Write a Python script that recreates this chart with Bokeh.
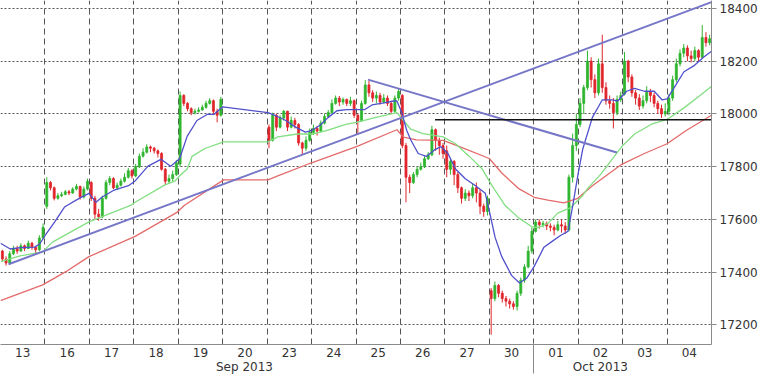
from bokeh.plotting import figure
from bokeh.models import FixedTicker, LinearAxis, Range1d
from bokeh.embed import file_html
from bokeh.resources import INLINE

# ---------------- data ----------------
days = ["13", "16", "17", "18", "19", "20", "23", "24", "25", "26", "27", "30", "01", "02", "03", "04"]
y_ticks = [17200, 17400, 17600, 17800, 18000, 18200, 18400]
month_pos = [5.49, 13.5]
month_labels = ["Sep 2013", "Oct 2013"]
month_break = [12.0]

# candles (2-hour bars): first open, closes, highs, lows per trading day
o13 = 17480
c13 = [17450, 17435, 17470, 17490, 17480, 17500, 17490, 17510, 17495, 17485, 17530, 17570]
h13 = [17485, 17460, 17480, 17500, 17500, 17510, 17505, 17520, 17515, 17500, 17540, 17585]
l13 = [17440, 17425, 17430, 17465, 17470, 17478, 17480, 17488, 17485, 17470, 17480, 17525]

o16 = 17650
c16 = [17740, 17720, 17680, 17690, 17695, 17705, 17700, 17715, 17725, 17685, 17715, 17745]
h16 = [17760, 17745, 17725, 17700, 17705, 17712, 17712, 17722, 17735, 17728, 17725, 17755]
l16 = [17640, 17710, 17672, 17675, 17685, 17692, 17692, 17698, 17710, 17675, 17680, 17710]

o17 = 17740
c17 = [17680, 17620, 17610, 17680, 17740, 17755, 17720, 17730, 17745, 17760, 17785, 17765]
h17 = [17745, 17690, 17640, 17690, 17750, 17765, 17760, 17740, 17755, 17775, 17795, 17790]
l17 = [17670, 17600, 17595, 17605, 17675, 17730, 17715, 17712, 17725, 17740, 17755, 17755]

o18 = 17765
c18 = [17800, 17840, 17855, 17875, 17870, 17860, 17850, 17790, 17745, 17755, 17770, 17815]
h18 = [17810, 17850, 17870, 17885, 17880, 17875, 17865, 17855, 17795, 17770, 17785, 17825]
l18 = [17760, 17795, 17835, 17850, 17855, 17850, 17835, 17785, 17730, 17738, 17745, 17765]

o19 = 17810
c19 = [18070, 18040, 18020, 18005, 18010, 18015, 18025, 18040, 18050, 18010, 17995, 18055]
h19 = [18085, 18075, 18045, 18025, 18020, 18025, 18035, 18050, 18060, 18055, 18020, 18065]
l19 = [17800, 18030, 18010, 17995, 17998, 18005, 18012, 18020, 18035, 18000, 17968, 17990]

o23 = 17950
c23 = [17900, 17995, 17950, 17985, 18010, 17950, 17975, 17960, 17890, 17870, 17900, 17930]
h23 = [17960, 18005, 18000, 17995, 18015, 18012, 17990, 17985, 17965, 17895, 17915, 17945]
l23 = [17870, 17895, 17935, 17945, 17975, 17935, 17945, 17945, 17880, 17846, 17860, 17895]

o24 = 17930
c24 = [17945, 17935, 17965, 17990, 18005, 18040, 18060, 18045, 18055, 18040, 18050, 17995]
h24 = [17960, 17955, 17975, 18000, 18015, 18055, 18070, 18068, 18062, 18058, 18065, 18055]
l24 = [17920, 17918, 17930, 17960, 17985, 18000, 18035, 18030, 18035, 18030, 18030, 17985]

o25 = 17995
c25 = [17975, 18040, 18110, 18080, 18060, 18070, 18045, 18060, 18040, 18010, 18060, 18085]
h25 = [18000, 18050, 18128, 18125, 18090, 18085, 18080, 18075, 18070, 18050, 18070, 18095]
l25 = [17925, 17970, 18035, 18065, 18045, 18040, 18035, 18040, 18030, 18000, 18005, 18050]

o26 = 18070
c26 = [17880, 17760, 17740, 17770, 17790, 17800, 17830, 17845, 17940, 17900, 17880, 17850]
h26 = [18075, 17890, 17770, 17780, 17800, 17815, 17840, 17855, 17955, 17945, 17910, 17890]
l26 = [17870, 17665, 17700, 17735, 17760, 17785, 17795, 17825, 17840, 17860, 17845, 17830]

o27 = 17860
c27 = [17790, 17820, 17770, 17720, 17680, 17700, 17690, 17720, 17700, 17650, 17630, 17680]
h27 = [17880, 17830, 17825, 17780, 17725, 17715, 17710, 17735, 17740, 17715, 17660, 17690]
l27 = [17760, 17770, 17730, 17700, 17660, 17670, 17670, 17680, 17665, 17620, 17610, 17615]

o30 = 17330
c30 = [17300, 17350, 17320, 17300, 17290, 17280, 17270, 17320, 17370, 17420, 17480, 17555]
h30 = [17340, 17365, 17355, 17330, 17310, 17300, 17290, 17330, 17380, 17430, 17500, 17570]
l30 = [17163, 17290, 17305, 17285, 17270, 17262, 17258, 17255, 17310, 17360, 17415, 17470]

o01 = 17555
c01 = [17590, 17580, 17585, 17575, 17570, 17560, 17580, 17575, 17560, 17760, 17880, 17960]
h01 = [17600, 17600, 17595, 17592, 17585, 17580, 17595, 17600, 17590, 17770, 17925, 18000]
l01 = [17550, 17565, 17570, 17560, 17555, 17540, 17555, 17550, 17545, 17555, 17740, 17860]

o02 = 17960
c02 = [18040, 18100, 18200, 18130, 18080, 18190, 18100, 18050, 18040, 18005, 18055, 18070]
h02 = [18060, 18110, 18240, 18215, 18150, 18210, 18300, 18120, 18070, 18060, 18070, 18085]
l02 = [17950, 18000, 18090, 18100, 18060, 18070, 18080, 18035, 18020, 17945, 17995, 18045]

o03 = 18075
c03 = [18200, 18140, 18080, 18060, 18030, 18050, 18085, 18070, 18040, 18020, 18000, 18010]
h03 = [18235, 18205, 18150, 18090, 18075, 18070, 18105, 18095, 18080, 18050, 18035, 18040]
l03 = [18070, 18120, 18065, 18035, 18015, 18020, 18040, 18045, 18025, 18000, 17985, 17990]

o04 = 18010
c04 = [18060, 18130, 18190, 18230, 18250, 18220, 18210, 18240, 18215, 18290, 18270, 18285]
h04 = [18075, 18145, 18210, 18245, 18265, 18260, 18240, 18255, 18245, 18337, 18310, 18300]
l04 = [17995, 18050, 18120, 18180, 18215, 18200, 18195, 18200, 18200, 18210, 18255, 18260]

# moving averages (time in days from start, value)
blue_t = [0.00, 0.22, 0.44, 0.77, 0.88, 1.02, 1.22, 1.44, 1.77, 1.99, 2.15, 2.28, 2.54, 2.88, 3.03, 3.32,
          3.61, 3.83, 4.03, 4.20, 4.42, 4.65, 4.80, 5.00, 6.02, 6.19, 6.42, 6.64, 6.86, 7.01, 7.19, 7.37,
          7.57, 7.79, 8.01, 8.19, 8.36, 8.63, 8.85, 8.92, 9.03, 9.14, 9.23, 9.40, 9.58, 9.78, 9.91, 10.07,
          10.24, 10.46, 10.69, 10.91, 11.02, 11.13, 11.28, 11.50, 11.68, 11.84, 12.01, 12.23, 12.39, 12.61,
          12.77, 12.88, 12.99, 13.10, 13.32, 13.54, 13.76, 13.89, 14.09, 14.27, 14.49, 14.71, 14.89, 15.00,
          15.15, 15.38, 15.60, 15.82, 16.00]
blue_v = [17510, 17488, 17493, 17495, 17507, 17543, 17591, 17647, 17680, 17699, 17665, 17684, 17710, 17728,
          17746, 17802, 17828, 17802, 17830, 17915, 17975, 17998, 17998, 18027, 18005, 17994, 17975, 17950,
          17931, 17938, 17957, 17986, 18012, 18016, 18016, 18016, 18034, 18042, 18049, 18049, 18005, 17938,
          17902, 17850, 17839, 17865, 17876, 17850, 17791, 17754, 17728, 17699, 17617, 17532, 17459, 17388,
          17359, 17377, 17422, 17495, 17514, 17540, 17555, 17654, 17765, 17865, 17987, 18053, 18053, 18049,
          18086, 18097, 18086, 18086, 18053, 18057, 18097, 18160, 18182, 18215, 18238]

green_t = [0.00, 0.44, 0.95, 1.17, 1.99, 2.94, 3.03, 3.69, 3.92, 4.03, 4.20, 4.31, 4.60, 5.02, 6.02, 6.24,
           6.68, 7.04, 7.35, 7.79, 8.01, 8.45, 8.92, 9.07, 9.23, 9.51, 9.96, 10.24, 10.55, 10.84, 11.06, 11.35,
           11.66, 11.95, 12.10, 12.32, 12.54, 12.83, 13.10, 13.21, 13.50, 13.98, 14.27, 14.65, 15.00, 15.38,
           15.75, 16.00]
green_v = [17440, 17462, 17477, 17514, 17591, 17654, 17665, 17730, 17745, 17765, 17791, 17839, 17869, 17894,
           17894, 17913, 17924, 17924, 17938, 17961, 17968, 17987, 18005, 17975, 17942, 17925, 17913, 17887,
           17839, 17791, 17728, 17654, 17606, 17573, 17569, 17585, 17624, 17645, 17690, 17717, 17770, 17876,
           17924, 17961, 17979, 18023, 18071, 18105]

red_t = [0.00, 0.95, 1.48, 1.99, 3.03, 3.98, 4.14, 5.02, 6.02, 6.24, 6.97, 8.01, 8.92, 9.07, 9.36, 9.96,
         10.33, 11.00, 11.28, 11.66, 12.01, 12.32, 12.68, 12.99, 13.32, 13.98, 14.49, 15.00, 15.44, 16.00]
red_v = [17292, 17352, 17403, 17459, 17536, 17628, 17654, 17750, 17750, 17765, 17813, 17876, 17940, 17912,
         17902, 17900, 17876, 17831, 17776, 17717, 17684, 17673, 17663, 17680, 17728, 17809, 17850, 17887,
         17938, 17995]

# drawn trend lines
up_t, up_v = [0.18, 16.0], [17430, 18424]
down_t, down_v = [8.27, 13.87], [18130, 17854]
level_t, level_v = [9.78, 16.0], [17978, 17978]

# ---------------- build candles ----------------
sessions = [("13", o13, c13, h13, l13), ("16", o16, c16, h16, l16), ("17", o17, c17, h17, l17),
            ("18", o18, c18, h18, l18), ("19", o19, c19, h19, l19), ("23", o23, c23, h23, l23),
            ("24", o24, c24, h24, l24), ("25", o25, c25, h25, l25), ("26", o26, c26, h26, l26),
            ("27", o27, c27, h27, l27), ("30", o30, c30, h30, l30), ("01", o01, c01, h01, l01),
            ("02", o02, c02, h02, l02), ("03", o03, c03, h03, l03), ("04", o04, c04, h04, l04)]

T, O, H, L, C, COL = [], [], [], [], [], []
for name, op, cl, hi, lo in sessions:
    d = days.index(name)
    n = len(cl)
    for k in range(n):
        o = op if k == 0 else cl[k - 1]
        T.append(d + (k + 0.5) / n)
        O.append(o)
        C.append(cl[k])
        H.append(hi[k])
        L.append(lo[k])
        COL.append("#2fb52f" if cl[k] >= o else "#e0262c")
TOP = [max(a, b) for a, b in zip(O, C)]
BOT = [min(a, b) for a, b in zip(O, C)]

# ---------------- figure ----------------
p = figure(width=760, height=376, x_range=Range1d(0, 16), y_range=Range1d(17126, 18430),
           y_axis_location="right", output_backend="svg", toolbar_location=None,
           min_border_left=0, min_border_top=0, min_border_right=0, min_border_bottom=0)
p.outline_line_color = None
p.background_fill_color = "white"
p.border_fill_color = "white"

FONT = "DejaVu Sans"
AX = "#8a8a8a"
TXT = "#333333"

ya = p.yaxis[0]
ya.ticker = FixedTicker(ticks=y_ticks)
ya.major_tick_out = 5
ya.major_tick_in = 0
ya.minor_tick_out = 0
ya.minor_tick_in = 0
ya.axis_line_color = AX
ya.major_tick_line_color = AX
ya.major_label_text_font = FONT
ya.major_label_text_font_size = "12px"
ya.major_label_text_color = TXT
ya.major_label_standoff = 3

xa = p.xaxis[0]
xa.ticker = FixedTicker(ticks=[i + 0.5 for i in range(len(days))])
xa.major_label_overrides = {i + 0.5: d for i, d in enumerate(days)}
xa.major_tick_out = 0
xa.major_tick_in = 0
xa.minor_tick_in = 0
xa.minor_tick_out = 0
xa.axis_line_color = AX
xa.major_label_text_font = FONT
xa.major_label_text_font_size = "12px"
xa.major_label_text_color = TXT
xa.major_label_standoff = 3

# month labels + month separator (minor tick reaching up to the main axis line)
ma = LinearAxis(ticker=FixedTicker(ticks=month_pos, minor_ticks=month_break),
                major_label_overrides={t: s for t, s in zip(month_pos, month_labels)})
ma.axis_line_color = None
ma.major_tick_line_color = None
ma.major_tick_out = 0
ma.major_tick_in = 0
ma.minor_tick_line_color = AX
ma.minor_tick_out = 14
ma.minor_tick_in = 17
ma.major_label_standoff = -14
ma.major_label_text_font = FONT
ma.major_label_text_font_size = "12px"
ma.major_label_text_color = TXT
p.add_layout(ma, "below")

p.xgrid.ticker = FixedTicker(ticks=list(range(len(days))))
p.xgrid.grid_line_color = "#555555"
p.xgrid.grid_line_dash = "6 4"
p.xgrid.grid_line_width = 1
p.ygrid.ticker = FixedTicker(ticks=y_ticks)
p.ygrid.grid_line_color = "#555555"
p.ygrid.grid_line_dash = "2 2"
p.ygrid.grid_line_width = 1

# candles
p.segment(x0=T, y0=L, x1=T, y1=H, line_color=COL, line_width=1)
p.vbar(x=T, width=0.045, top=TOP, bottom=BOT, fill_color=COL, line_color=COL, line_width=0.8)

# moving averages
p.line(red_t, red_v, line_color="#e46a6a", line_width=1.3)
p.line(green_t, green_v, line_color="#82df82", line_width=1.3)
p.line(blue_t, blue_v, line_color="#5050cc", line_width=1.3)

# trend lines
p.line(up_t, up_v, line_color="#7676c8", line_width=2)
p.line(down_t, down_v, line_color="#7676c8", line_width=2)
p.line(level_t, level_v, line_color="#111111", line_width=1.6)

open("out.html", "w").write(file_html(p, INLINE))
